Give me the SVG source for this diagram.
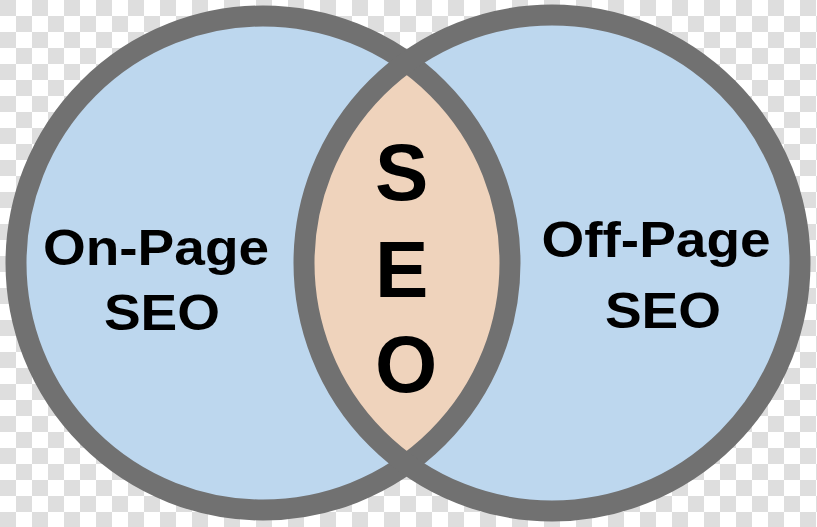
<svg xmlns="http://www.w3.org/2000/svg" width="817" height="527" viewBox="0 0 817 527">
  <defs>
    <pattern id="checker" x="0" y="0" width="32" height="32" patternUnits="userSpaceOnUse">
      <rect x="0" y="0" width="32" height="32" fill="#ffffff"/>
      <rect x="0" y="0" width="16" height="16" fill="#dedede"/>
      <rect x="16" y="16" width="16" height="16" fill="#dedede"/>
    </pattern>
    <clipPath id="leftClip">
      <circle cx="263" cy="263" r="247"/>
    </clipPath>
    <style>
      .ring { fill: none; stroke: #717171; stroke-width: 21; }
      .blue { fill: #bdd7ee; }
      .peach { fill: #efd3bc; }
      .lbl { font-family: "Liberation Sans", Arial, sans-serif; font-weight: bold; fill: #000000; }
      .side { font-size: 50px; text-anchor: middle; }
      .mid { font-size: 80px; text-anchor: start; }
    </style>
  </defs>
  <rect x="0" y="0" width="817" height="527" fill="url(#checker)"/>

  <g id="on-page">
    <circle class="blue" cx="263" cy="263" r="247"/>
  </g>
  <g id="off-page">
    <circle class="blue" cx="552" cy="263" r="248"/>
  </g>
  <g id="seo">
    <circle class="peach" cx="552" cy="263" r="248" clip-path="url(#leftClip)"/>
  </g>

  <g id="rings">
    <circle class="ring" cx="263" cy="263" r="247"/>
    <circle class="ring" cx="552" cy="263" r="248"/>
  </g>

  <g id="on-page-label">
    <text class="lbl side" transform="translate(156,265) scale(1.1,1)">On-Page</text>
    <text class="lbl side" transform="translate(162,330) scale(1.1,1)">SEO</text>
  </g>
  <g id="off-page-label">
    <text class="lbl side" transform="translate(656,257) scale(1.1,1)">Off-Page</text>
    <text class="lbl side" transform="translate(663,328) scale(1.1,1)">SEO</text>
  </g>
  <g id="seo-label">
    <text class="lbl mid" x="375" y="200">S</text>
    <text class="lbl mid" x="375" y="297">E</text>
    <text class="lbl mid" x="375" y="392">O</text>
  </g>
</svg>
